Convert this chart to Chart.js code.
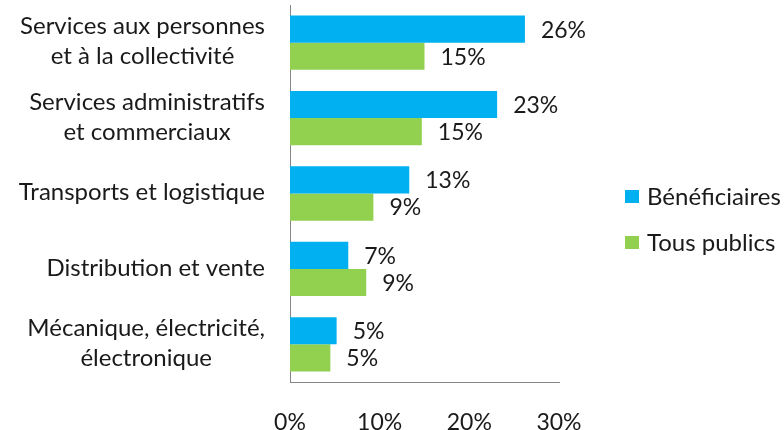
<!DOCTYPE html>
<html>
<head>
<meta charset="utf-8">
<script src="https://cdn.jsdelivr.net/npm/chart.js"></script>
<style>
  html, body { margin: 0; padding: 0; background: #fff; overflow: hidden; }
  #wrap { width: 784px; height: 430px; }
</style>
</head>
<body>
<div id="wrap"><canvas id="barChart"></canvas></div>
<script>
// categories (one entry per line of the label)
const categories = [
    ['Services aux personnes', 'et à la collectivité'],
    ['Services administratifs', 'et commerciaux'],
    ['Transports et logistique'],
    ['Distribution et vente'],
    ['Mécanique, électricité,', 'électronique']
];
const seriesNames = ['Bénéficiaires', 'Tous publics'];

// bar lengths (%)
const beneficiaires = [26.2, 23.1, 13.3, 6.5, 5.2];
const tousPublics = [15.0, 14.7, 9.3, 8.5, 4.5];

// values written next to the bars
const beneficiairesText = ['26%', '23%', '13%', '7%', '5%'];
const tousPublicsText = ['15%', '15%', '9%', '9%', '5%'];

const xTicks = [0, 10, 20, 30];

const FONT = 'Lato';
const textColor = '#1a1a1a';

// labels on the left: block right aligned, lines centered
const categoryLabels = {
    id: 'categoryLabels',
    afterDraw(chart) {
        const ctx = chart.ctx;
        const y = chart.scales.y;
        ctx.save();
        ctx.font = '24px ' + FONT;
        ctx.fillStyle = textColor;
        ctx.textAlign = 'center';
        ctx.textBaseline = 'middle';
        const lineH = 30;
        categories.forEach((lines, i) => {
            const cy = y.getPixelForTick(i);
            const w = Math.max(...lines.map(l => ctx.measureText(l).width));
            const cx = 265 - w / 2;
            lines.forEach((l, k) => {
                ctx.fillText(l, cx, cy - 1 + (k - (lines.length - 1) / 2) * lineH);
            });
        });
        ctx.restore();
    }
};

// value labels to the right of the bars
const valueLabels = {
    id: 'valueLabels',
    afterDatasetsDraw(chart) {
        const ctx = chart.ctx;
        const texts = [beneficiairesText, tousPublicsText];
        ctx.save();
        ctx.font = '23px ' + FONT;
        ctx.fillStyle = textColor;
        ctx.textAlign = 'left';
        ctx.textBaseline = 'middle';
        chart.data.datasets.forEach((ds, d) => {
            chart.getDatasetMeta(d).data.forEach((bar, i) => {
                ctx.fillText(texts[d][i], bar.x + 16, bar.y + 1);
            });
        });
        ctx.restore();
    }
};

// legend on the right, cut by the edge like the original
const sideLegend = {
    id: 'sideLegend',
    afterDraw(chart) {
        const ctx = chart.ctx;
        ctx.save();
        ctx.font = '24px ' + FONT;
        ctx.textBaseline = 'middle';
        ctx.textAlign = 'left';
        chart.data.datasets.forEach((ds, d) => {
            const cy = 197 + d * 46;
            ctx.fillStyle = ds.backgroundColor;
            ctx.fillRect(625, cy - 7, 14, 13);
            ctx.fillStyle = textColor;
            ctx.fillText(ds.label, 647, cy);
        });
        ctx.restore();
    }
};

new Chart(document.getElementById('barChart').getContext('2d'), {
    type: 'bar',
    data: {
        labels: categories,
        datasets: [{
            label: seriesNames[0],
            data: beneficiaires,
            backgroundColor: '#00B0F0',
            borderWidth: 0
        }, {
            label: seriesNames[1],
            data: tousPublics,
            backgroundColor: '#92D050',
            borderWidth: 0
        }]
    },
    options: {
        indexAxis: 'y',
        responsive: true,
        maintainAspectRatio: false,
        animation: false,
        layout: { padding: { top: 5, right: 225, bottom: 0, left: 0 } },
        datasets: {
            bar: { categoryPercentage: 0.72, barPercentage: 1.0 }
        },
        plugins: {
            legend: { display: false },
            tooltip: { enabled: false }
        },
        scales: {
            x: {
                min: 0,
                max: 30,
                afterBuildTicks: scale => { scale.ticks = xTicks.map(v => ({ value: v })); },
                afterFit: scale => { scale.height = 48; },
                grid: { display: false, drawTicks: false },
                border: { display: true, color: '#868686', width: 1 },
                ticks: {
                    padding: 27,
                    color: textColor,
                    font: { family: FONT, size: 23 },
                    maxRotation: 0,
                    callback: v => v + '%'
                }
            },
            y: {
                afterFit: scale => { scale.width = 290; },
                grid: { display: false, drawTicks: false },
                border: { display: true, color: '#868686', width: 1 },
                ticks: { display: false }
            }
        }
    },
    plugins: [categoryLabels, valueLabels, sideLegend]
});
</script>
</body>
</html>
